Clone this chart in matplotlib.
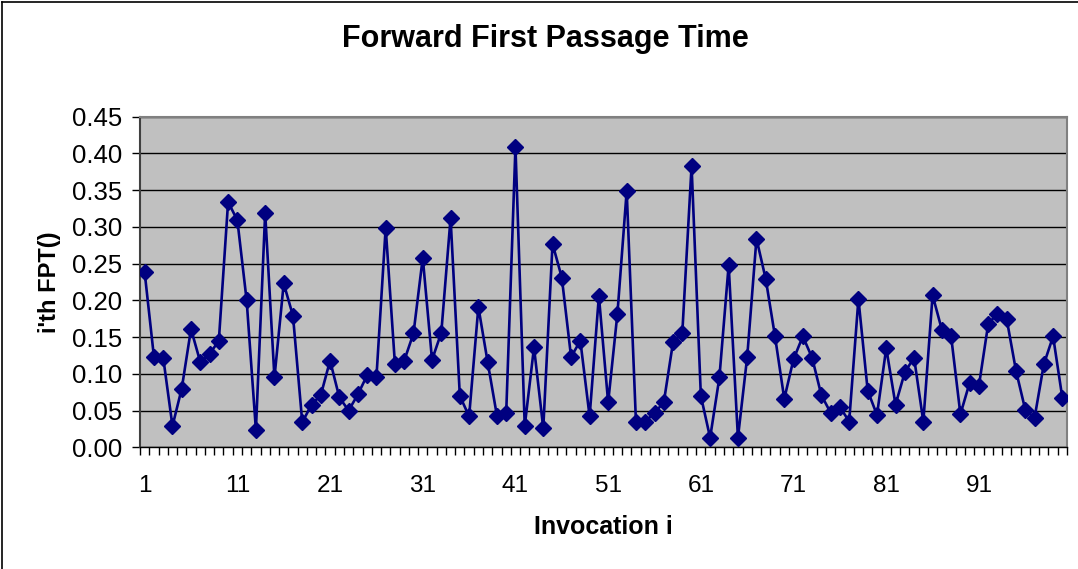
import numpy as np
import matplotlib
matplotlib.use("Agg")
import matplotlib.pyplot as plt
from matplotlib.lines import Line2D

# data
invocation = np.arange(1, 101)
fpt = [0.238, 0.123, 0.122, 0.029, 0.080, 0.161, 0.116, 0.127, 0.145, 0.334,
       0.309, 0.200, 0.024, 0.319, 0.095, 0.223, 0.179, 0.034, 0.058, 0.071,
       0.118, 0.068, 0.050, 0.072, 0.098, 0.095, 0.299, 0.113, 0.118, 0.155,
       0.258, 0.119, 0.156, 0.312, 0.070, 0.042, 0.191, 0.116, 0.043, 0.046,
       0.409, 0.029, 0.136, 0.026, 0.277, 0.231, 0.123, 0.145, 0.042, 0.206,
       0.061, 0.182, 0.349, 0.034, 0.035, 0.047, 0.061, 0.143, 0.156, 0.383,
       0.070, 0.013, 0.095, 0.248, 0.013, 0.123, 0.284, 0.229, 0.151, 0.066,
       0.120, 0.151, 0.122, 0.071, 0.047, 0.055, 0.035, 0.202, 0.077, 0.044,
       0.135, 0.058, 0.102, 0.122, 0.035, 0.207, 0.160, 0.151, 0.045, 0.088,
       0.084, 0.168, 0.182, 0.174, 0.104, 0.051, 0.040, 0.113, 0.151, 0.067]
x_labels = np.arange(1, 101, 10)
y_ticks = np.arange(0, 0.451, 0.05)

plt.rcParams['font.family'] = ['Liberation Sans', 'DejaVu Sans']

fig = plt.figure(figsize=(10.78, 5.69), dpi=100)
ax = fig.add_axes([0.1299, 0.2139, 0.8599, 0.581])
ax.set_facecolor('#C0C0C0')

ax.plot(invocation, fpt, color='#000080', lw=1.9, marker='D', ms=8.5,
        markerfacecolor='#000080', markeredgecolor='#000080', zorder=3)

ax.set_xlim(0.5, 100.5)
ax.set_ylim(0, 0.45)
ax.set_yticks(y_ticks)
ax.set_yticklabels([f'{v:.2f}' for v in y_ticks])
ax.set_xticks(x_labels)
ax.set_xticks(np.arange(0.5, 101, 1), minor=True)
ax.tick_params(axis='x', which='major', length=0, labelsize=17.5, pad=20)
ax.tick_params(axis='x', which='minor', length=6, width=1, direction='out', color='black')
ax.tick_params(axis='y', length=6, width=1, direction='out', labelsize=18.5, pad=7)

ax.grid(axis='y', color='black', lw=1)
ax.set_axisbelow(True)

for side in ['top', 'right']:
    ax.spines[side].set_color('#808080')
    ax.spines[side].set_linewidth(1.5)
ax.spines['left'].set_color('#404040')
ax.spines['left'].set_linewidth(1.5)
ax.spines['bottom'].set_color('black')
ax.spines['bottom'].set_linewidth(1)

ax.set_xlabel('Invocation i', fontsize=18, fontweight='bold', labelpad=13)
ax.set_ylabel("i'th FPT()", fontsize=17, fontweight='bold', labelpad=8)
fig.text(0.506, 0.932, 'Forward First Passage Time', fontsize=22,
         fontweight='bold', ha='center', va='center')

# chart border (top and left visible)
fig.add_artist(Line2D([0.002, 0.002], [0, 0.996], transform=fig.transFigure, color='black', lw=1.2))
fig.add_artist(Line2D([0.002, 1], [0.996, 0.996], transform=fig.transFigure, color='black', lw=1.2))

fig.savefig('out.png', dpi=100)
